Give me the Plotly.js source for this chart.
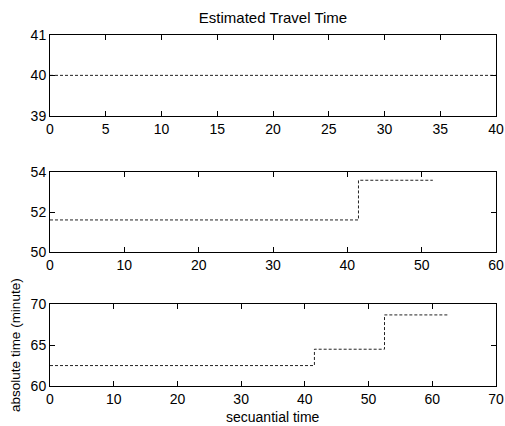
<!DOCTYPE html>
<html>
<head>
<meta charset="utf-8">
<script src="https://cdn.plot.ly/plotly-3.0.1.min.js"></script>
<style>html,body{margin:0;padding:0;background:#fff}#chart{width:505px;height:426px}</style>
</head>
<body>
<div id="chart"></div>
<script>
// Panel 1
const x1 = [0, 40];
const y1 = [40, 40];
// Panel 2 (step changes)
const x2 = [0, 41.5, 51.5];
const y2 = [51.6, 53.6, 53.6];
// Panel 3 (step changes)
const x3 = [0, 41.5, 52.5, 62.5];
const y3 = [62.5, 64.5, 68.7, 68.7];

const titleText = "Estimated Travel Time";
const xLabel = "secuantial time";
const yLabel = "absolute time (minute)";

const xTicks1 = [0, 5, 10, 15, 20, 25, 30, 35, 40];
const yTicks1 = [39, 40, 41];
const xTicks2 = [0, 10, 20, 30, 40, 50, 60];
const yTicks2 = [50, 52, 54];
const xTicks3 = [0, 10, 20, 30, 40, 50, 60, 70];
const yTicks3 = [60, 65, 70];

const lineStyle = {color: '#222', width: 1, dash: '3px,2px', shape: 'hv'};

const traces = [
  {x: x1, y: y1, xaxis: 'x', yaxis: 'y', mode: 'lines', line: lineStyle, hoverinfo: 'none'},
  {x: x2, y: y2, xaxis: 'x2', yaxis: 'y2', mode: 'lines', line: lineStyle, hoverinfo: 'none'},
  {x: x3, y: y3, xaxis: 'x3', yaxis: 'y3', mode: 'lines', line: lineStyle, hoverinfo: 'none'}
];

const fam = '"Liberation Sans", Arial, sans-serif';
const font = {family: fam, size: 14, color: '#000'};

function ax(extra) {
  return Object.assign({
    showline: true, mirror: 'ticks', linecolor: '#000', linewidth: 1,
    ticks: 'inside', ticklen: 5, tickcolor: '#000', tickwidth: 1,
    showgrid: false, zeroline: false, tickmode: 'array', fixedrange: true,
    tickfont: font
  }, extra);
}

const layout = {
  width: 505, height: 426,
  margin: {l: 50, r: 9, t: 35, b: 40},
  paper_bgcolor: '#fff', plot_bgcolor: '#fff',
  showlegend: false,
  font: font,
  title: {text: titleText, font: {family: fam, size: 15, color: '#000'},
          x: 0.5, xref: 'paper', y: 1 - 18/426, yref: 'container', yanchor: 'middle'},
  xaxis: ax({domain: [0, 1], anchor: 'y', range: [0, 40], tickvals: xTicks1}),
  yaxis: ax({domain: [0.770, 1], anchor: 'x', range: [39, 41], tickvals: yTicks1}),
  xaxis2: ax({domain: [0, 1], anchor: 'y2', range: [0, 60], tickvals: xTicks2}),
  yaxis2: ax({domain: [0.3826, 0.6088], anchor: 'x2', range: [50, 54], tickvals: yTicks2}),
  xaxis3: ax({domain: [0, 1], anchor: 'y3', range: [0, 70], tickvals: xTicks3}),
  yaxis3: ax({domain: [0, 0.2328], anchor: 'x3', range: [60, 70], tickvals: yTicks3,
              title: {text: yLabel, font: {family: fam, size: 13.5, color: '#000'}, standoff: 6}}),
  annotations: [
    {text: xLabel, xref: 'paper', yref: 'paper', x: 0.5, y: (386 - 417) / 351,
     xanchor: 'center', yanchor: 'middle', showarrow: false,
     font: {family: fam, size: 14, color: '#000'}}
  ]
};

Plotly.newPlot('chart', traces, layout, {displayModeBar: false, staticPlot: true});
</script>
</body>
</html>
